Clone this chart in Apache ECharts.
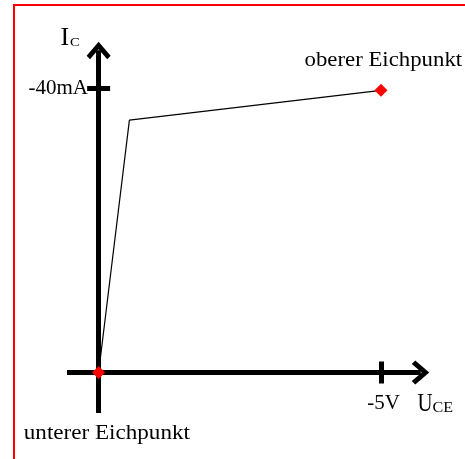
<!DOCTYPE html>
<html>
<head>
<meta charset="utf-8">
<script src="https://cdn.jsdelivr.net/npm/echarts@6.0.0/dist/echarts.min.js"></script>
<style>
html,body{margin:0;padding:0;background:#fff;}
#chart{width:465px;height:459px;}
</style>
</head>
<body>
<div id="chart"></div>
<script>
// Kennlinie (U_CE in V, I_C in mA)
const curveU = [0, -0.545, -5.0];
const curveI = [0, -35.5, -39.7];
// Eichpunkte
const eichU = [0, -5.0];
const eichI = [0, -39.7];
const eichNames = ['unterer Eichpunkt', 'oberer Eichpunkt'];
// Achsenmarken
const uTicks = [-5];
const iTicks = [-40];
const uUnit = 'V';
const iUnit = 'mA';
const yName = ['I', 'C'];
const xName = ['U', 'CE'];

const FONT = 'Liberation Serif';
const chevron = 'path://M12,0 L24,14 L20.6,17.5 L12,7.5 L3.4,17.5 L0,14 Z';
const XMIN = -5.7, XMAX = 0.56, YMIN = -45.3, YMAX = 5.7;

const chart = echarts.init(document.getElementById('chart'), null, {renderer: 'canvas'});

function xAxisCfg(primary) {
  return {
    type: 'value', inverse: true, min: XMIN, max: XMAX,
    position: primary ? 'bottom' : 'top',
    axisLine: {
      show: true, onZero: true, onZeroAxisIndex: primary ? 0 : 1,
      lineStyle: {color: '#000', width: 5, cap: 'butt'},
      symbol: primary ? ['none', chevron] : 'none',
      symbolSize: [24, 17.5]
    },
    axisTick: {show: true, customValues: uTicks, length: 11, lineStyle: {color: '#000', width: 5}},
    axisLabel: {
      show: primary, customValues: uTicks, margin: -20.5,
      formatter: v => v + uUnit,
      color: '#000', fontFamily: FONT, fontSize: 21, padding: [0, 0, 0, 5]
    },
    splitLine: {show: false}
  };
}
function yAxisCfg(primary) {
  return {
    type: 'value', inverse: true, min: YMIN, max: YMAX,
    position: primary ? 'left' : 'right',
    axisLine: {
      show: true, onZero: true, onZeroAxisIndex: primary ? 0 : 1,
      lineStyle: {color: '#000', width: 5, cap: 'butt'},
      symbol: primary ? ['none', chevron] : 'none',
      symbolSize: [24, 17.5]
    },
    axisTick: {show: true, customValues: iTicks, length: 11.5, lineStyle: {color: '#000', width: 5}},
    axisLabel: {
      show: primary, customValues: iTicks, margin: -21,
      formatter: v => v + iUnit,
      color: '#000', fontFamily: FONT, fontSize: 21, padding: [7, 0, 0, 0]
    },
    splitLine: {show: false}
  };
}

function txt(x, y, text, size, sx) {
  return {
    type: 'text', x: x, y: y, scaleX: sx, z: 10,
    style: {
      text: text, fill: '#000', fontFamily: FONT, fontSize: size,
      align: 'left', verticalAlign: 'middle',
      textAlign: 'left', textVerticalAlign: 'middle'
    }
  };
}

const option = {
  backgroundColor: '#fff',
  animation: false,
  grid: {left: 67, top: 50.5, width: 353.5, height: 362.5, containLabel: false, outerBoundsMode: 'none'},
  xAxis: [xAxisCfg(true), xAxisCfg(false)],
  yAxis: [yAxisCfg(true), yAxisCfg(false)],
  graphic: {
    elements: [
      {type: 'rect', shape: {x: 14, y: 5, width: 520, height: 520}, z: 100,
       style: {fill: 'none', stroke: '#ff0000', lineWidth: 2}},
      txt(60.5, 37.9, yName[0], 26, 1.0),
      txt(70, 42.3, yName[1], 13, 1.12),
      txt(417.5, 404.5, xName[0], 26, 0.8),
      txt(432.5, 408.6, xName[1], 14, 1.15),
      txt(23.8, 433.3, eichNames[0], 20, 1.155),
      txt(304.5, 60.5, eichNames[1], 20, 1.14)
    ]
  },
  series: [
    {
      type: 'line', xAxisIndex: 0, yAxisIndex: 0,
      data: curveU.map((u, i) => [u, curveI[i]]),
      symbol: 'none', lineStyle: {color: '#000', width: 1.2}, z: 3,
      clip: false
    },
    {
      type: 'scatter', xAxisIndex: 0, yAxisIndex: 0,
      data: eichU.map((u, i) => ({value: [u, eichI[i]], name: eichNames[i]})),
      symbol: 'diamond', symbolSize: 13,
      itemStyle: {color: '#ff0000', opacity: 1}, z: 4, clip: false
    }
  ]
};
chart.setOption(option);
</script>
</body>
</html>
